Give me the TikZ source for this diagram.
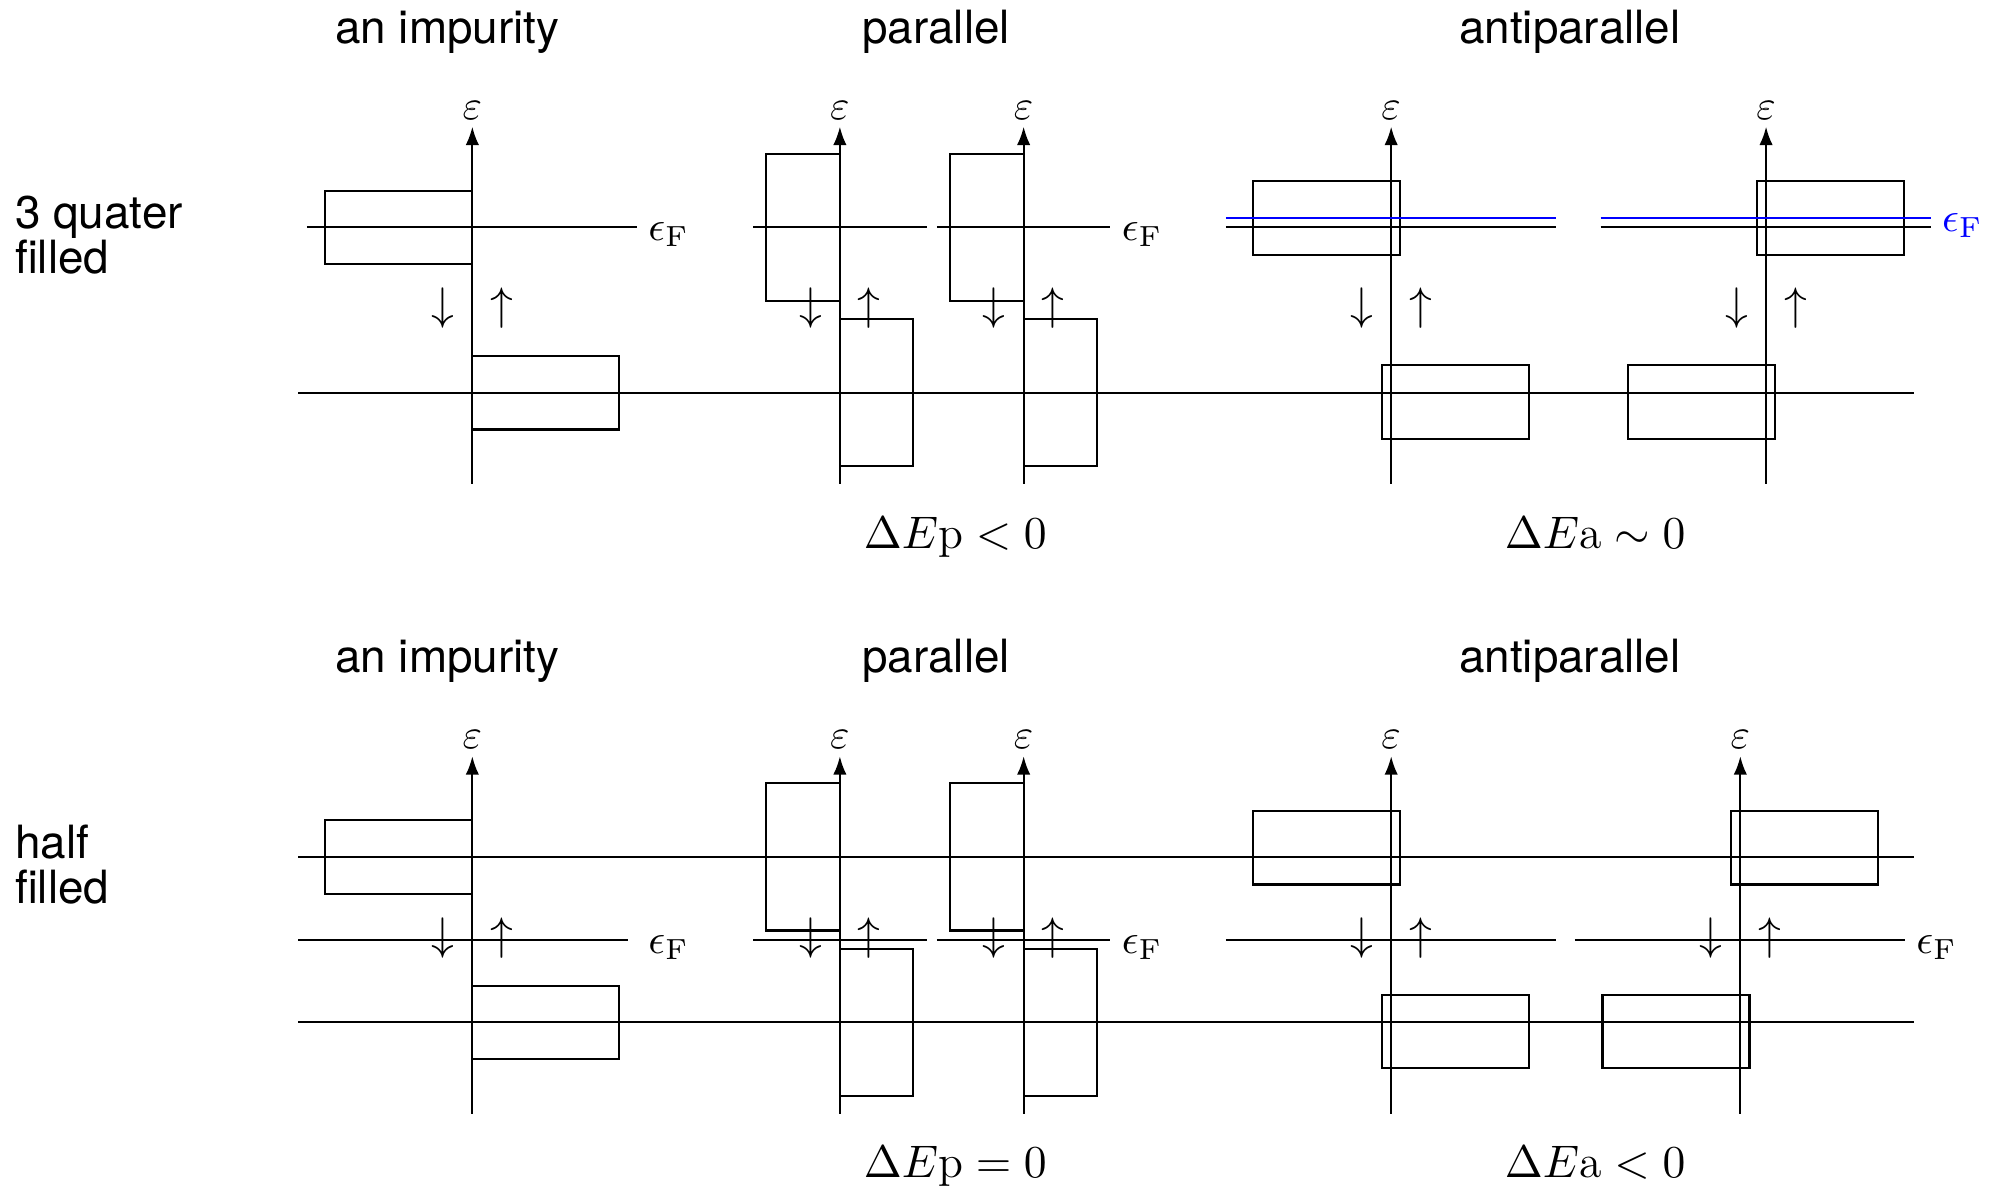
\documentclass[tikz,border=0pt]{standalone}
\usepackage{fontspec}
\setsansfont{TeX Gyre Heros}
\usetikzlibrary{arrows.meta}

\tikzset{
  every path/.style={line width=0.5pt},
  eaxis/.style={-{Latex[length=4.4pt,width=3.2pt]}},
  spin/.style={font=\fontsize{10.5}{12}\selectfont},
  eflabel/.style={right,inner sep=2.5pt,yshift=-1.8pt,font=\fontsize{10}{12}\selectfont},
  heading/.style={anchor=base,font=\sffamily\fontsize{11}{13}\selectfont},
  rowlabel/.style={anchor=west,align=left,inner sep=0pt,font=\sffamily\fontsize{11}{10.8}\selectfont},
  gain/.style={anchor=base,font=\fontsize{11}{13}\selectfont},
}

% energy axis with the two spin arrows
\newcommand{\dosaxis}[2]{%
  \draw[eaxis] (#1,-1.24) -- (#1,3.62) node[above,inner sep=1.5pt] (#2-eps) {$\varepsilon$};
  \node[spin] (#2-dn) at (#1-0.4,1.15) {$\downarrow$};
  \node[spin] (#2-up) at (#1+0.4,1.15) {$\uparrow$};
}

\begin{document}
\begin{tikzpicture}[x=0.62cm,y=0.62cm]
  \useasboundingbox (-6.426,-10.834) rectangle (20.81,5.343);

  % 3 quater filled
  \node[heading] (h-imp) at (-0.34,4.754) {an impurity};
  \node[heading] (h-par) at (6.31,4.754) {parallel};
  \node[heading] (h-ap) at (14.93,4.754) {antiparallel};
  \node[rowlabel] (r-qf) at (-6.235,2.14) {3 quater\\filled};
  \draw (-2.37,0) -- (19.61,0);
  % impurity
  \dosaxis{0}{imp}
  \draw (-2,1.75) rectangle (0,2.75) (0,-0.5) rectangle (2,0.5);
  \draw (-2.25,2.25) -- (2.24,2.25) node[eflabel] (imp-ef) {$\epsilon_{\rm F}$};
  % parallel
  \foreach \a/\n in {5/p1,7.5/p2} {
    \dosaxis{\a}{\n}
    \draw (\a-1,1.25) rectangle (\a,3.25) (\a,-1) rectangle (\a+1,1);
    \draw (\a-1.18,2.25) -- (\a+1.18,2.25);
  }
  \node[eflabel] (par-ef) at (8.68,2.25) {$\epsilon_{\rm F}$};
  % antiparallel
  \foreach \a/\u/\l/\n in {12.5/-1.875/-0.125/a1,17.6/-0.125/-1.875/a2} {
    \dosaxis{\a}{\n}
    \draw (\a+\u,1.875) rectangle ++(2,1) (\a+\l,-0.625) rectangle ++(2,1);
    \draw (\a-2.25,2.25) -- (\a+2.24,2.25);
    \draw[blue] (\a-2.25,2.375) -- (\a+2.24,2.375);
  }
  \node[eflabel,text=blue] (ap-ef) at (19.84,2.375) {$\epsilon_{\rm F}$};
  \node[gain] (dp-qf) at (6.57,-2.117) {$\Delta E\mathrm{p} < 0$};
  \node[gain] (da-qf) at (15.275,-2.117) {$\Delta E\mathrm{a} \sim 0$};

  % half filled
  \begin{scope}[shift={(0,-8.565)}]
    \node[heading] (h-imp2) at (-0.34,4.754) {an impurity};
    \node[heading] (h-par2) at (6.31,4.754) {parallel};
    \node[heading] (h-ap2) at (14.93,4.754) {antiparallel};
    \node[rowlabel] (r-hf) at (-6.235,2.14) {half\\filled};
    \draw (-2.37,0) -- (19.61,0) (-2.37,2.25) -- (19.61,2.25);
    % impurity
    \dosaxis{0}{imp2}
    \draw (-2,1.75) rectangle (0,2.75) (0,-0.5) rectangle (2,0.5);
    \draw (-2.37,1.125) -- (2.12,1.125);
    \node[eflabel] (imp2-ef) at (2.24,1.125) {$\epsilon_{\rm F}$};
    % parallel
    \foreach \a/\n in {5/q1,7.5/q2} {
      \dosaxis{\a}{\n}
      \draw (\a-1,1.25) rectangle (\a,3.25) (\a,-1) rectangle (\a+1,1);
      \draw (\a-1.18,1.125) -- (\a+1.18,1.125);
    }
    \node[eflabel] (par2-ef) at (8.68,1.125) {$\epsilon_{\rm F}$};
    % antiparallel
    \foreach \a/\u/\l/\n in {12.5/-1.875/-0.125/b1,17.25/-0.125/-1.875/b2} {
      \dosaxis{\a}{\n}
      \draw (\a+\u,1.875) rectangle ++(2,1) (\a+\l,-0.625) rectangle ++(2,1);
      \draw (\a-2.25,1.125) -- (\a+2.24,1.125);
    }
    \node[eflabel] (ap2-ef) at (19.49,1.125) {$\epsilon_{\rm F}$};
    \node[gain] (dp-hf) at (6.57,-2.117) {$\Delta E\mathrm{p} = 0$};
    \node[gain] (da-hf) at (15.275,-2.117) {$\Delta E\mathrm{a} < 0$};
  \end{scope}
\end{tikzpicture}
\end{document}
